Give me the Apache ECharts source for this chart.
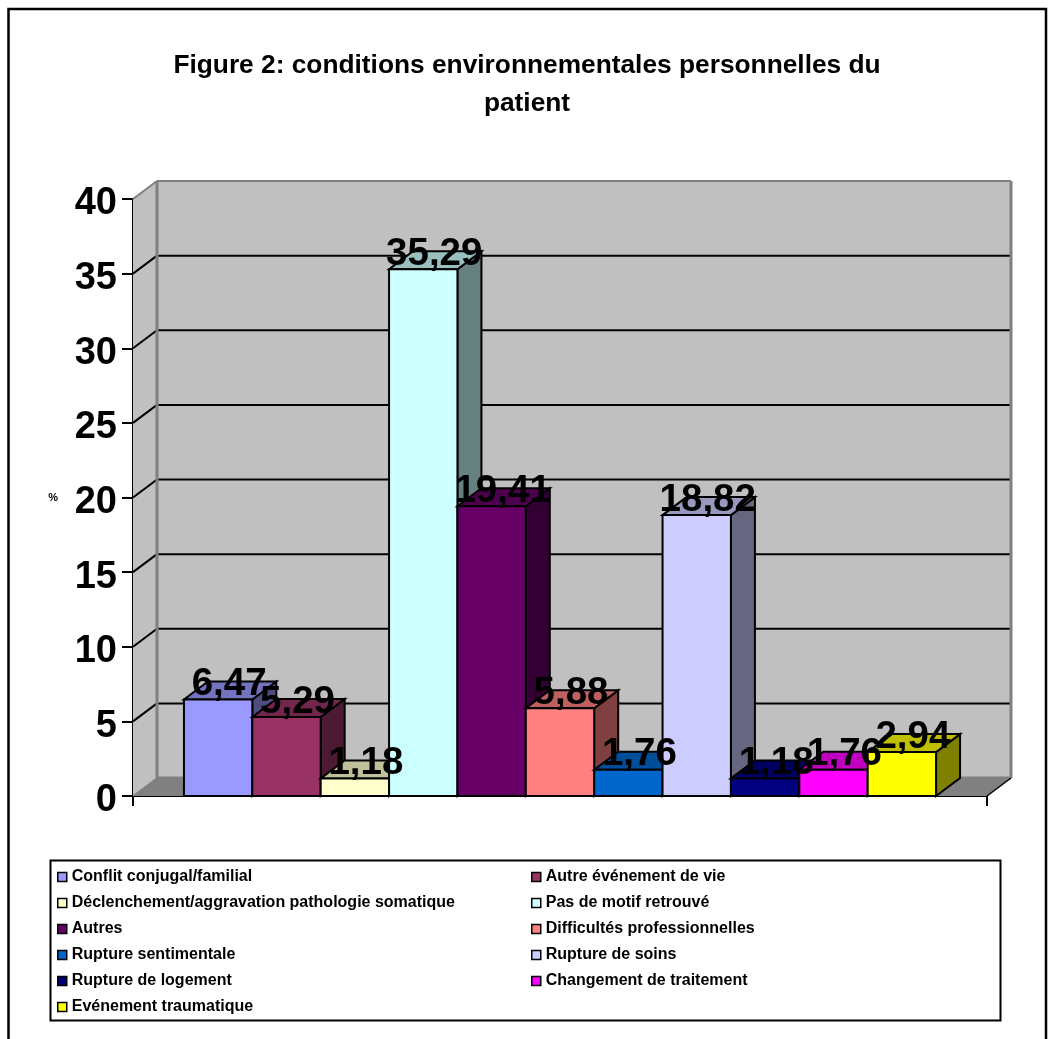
<!DOCTYPE html>
<html><head><meta charset="utf-8">
<style>html,body{margin:0;padding:0;background:#fff}#c{width:1048px;height:1039px}</style>
<script src="https://cdn.jsdelivr.net/npm/echarts@6/dist/echarts.min.js"></script>
</head><body><div id="c"></div>
<script>
const titleLines = ['Figure 2: conditions environnementales personnelles du', 'patient'];
const categories = ['Conflit conjugal/familial','Autre événement de vie','Déclenchement/aggravation pathologie somatique','Pas de motif retrouvé','Autres','Difficultés professionnelles','Rupture sentimentale','Rupture de soins','Rupture de logement','Changement de traitement','Evénement traumatique'];
const values = [6.47,5.29,1.18,35.29,19.41,5.88,1.76,18.82,1.18,1.76,2.94];
const valueLabels = ['6,47','5,29','1,18','35,29','19,41','5,88','1,76','18,82','1,18','1,76','2,94'];
const colors = ['#9999FF','#993366','#FFFFCC','#CCFFFF','#660066','#FF8080','#0066CC','#CCCCFF','#000080','#FF00FF','#FFFF00'];
const yTicks = [0,5,10,15,20,25,30,35,40];

const DX = 24, DY = -18;        // projection depth of the 3D box
const GAP = 0.745, XMAX = 12.49; // x domain measured in bar widths

function shade(hex, k){
  const n = parseInt(hex.slice(1),16);
  return 'rgb('+[(n>>16)&255,(n>>8)&255,n&255].map(v=>Math.round(v*k)).join(',')+')';
}
function poly(points, fill, stroke, lw, z2){
  return {type:'polygon', shape:{points}, z2:z2||0, style:{fill, stroke:stroke||null, lineWidth:lw||0, lineJoin:'miter'}};
}
function line(a,b,stroke,lw,z2){
  return {type:'line', shape:{x1:a[0],y1:a[1],x2:b[0],y2:b[1]}, z2:z2||0, style:{stroke, lineWidth:lw}};
}
const back = p => [p[0]+DX, p[1]+DY];

function renderWalls(params, api){
  const bl = api.coord([0,0]), br = api.coord([XMAX,0]), tl = api.coord([0,40]), tr = api.coord([XMAX,40]);
  const ch = [];
  ch.push(poly([back(tl),back(tr),back(br),back(bl)],'#C0C0C0'));
  ch.push(poly([tl,back(tl),back(bl),bl],'#C0C0C0'));
  ch.push(poly([bl,back(bl),back(br),br],'#808080'));
  yTicks.forEach(t=>{
    if(t===0) return;
    const a = api.coord([0,t]), b = api.coord([XMAX,t]);
    if(t<40){ ch.push(line(back(a),back(b),'#000',2)); }
    ch.push(line(a,back(a),t===40?'#808080':'#000',2));
  });
  ch.push(line(back(tl),back(tr),'#808080',2));
  ch.push(line(back(tl),back(bl),'#808080',3));
  ch.push(line(back(tr),back(br),'#808080',3));
  ch.push(line(back(bl),back(br),'#808080',3));
  ch.push(line(br,back(br),'#000',1.5));
  ch.push(line(bl,back(bl),'#808080',1.5));
  return {type:'group', children:ch};
}
function makeBar(i){
  return function(params, api){
    const v = api.value(1), x = GAP + i;
    const b0 = api.coord([x,0]), b1 = api.coord([x+1,0]), t0 = api.coord([x,v]), t1 = api.coord([x+1,v]);
    const c = colors[i];
    const lw = 2;
    return {type:'group', children:[
      poly([t1,back(t1),back(b1),b1],shade(c,0.5),'#000',lw),
      poly([t0,back(t0),back(t1),t1],shade(c,0.75),'#000',lw),
      poly([t0,t1,b1,b0],c,'#000',lw),
      {type:'text', z2:100, style:{x:(t0[0]+t1[0])/2+DX/2-1, y:t0[1]-15, text:valueLabels[i], align:'center', verticalAlign:'middle', fontFamily:'"Liberation Sans",Arial,sans-serif', fontWeight:'bold', fontSize:38.5, fill:'#000'}}
    ]};
  };
}
const series = [{
  type:'custom', name:'__walls', coordinateSystem:'cartesian2d', silent:true, z:1,
  data:[[0,0]], renderItem:renderWalls, clip:false, encode:{x:0,y:1}
}];
categories.forEach((name,i)=>{
  series.push({type:'custom', name, coordinateSystem:'cartesian2d', z:2, clip:false,
    itemStyle:{color:colors[i]}, data:[[GAP+i, values[i]]], renderItem:makeBar(i), encode:{x:0,y:1}});
});
const FF = '"Liberation Sans",Arial,sans-serif';
const legendBase = {orient:'vertical', itemWidth:9, itemHeight:9, itemGap:10, icon:'rect', padding:0,
  itemStyle:{borderColor:'#000',borderWidth:1.5},
  textStyle:{fontFamily:FF,fontWeight:'bold',fontSize:16,color:'#000',padding:[0,0,0,0]}, selectedMode:false};
const option = {
  animation:false, backgroundColor:'#fff',
  title:{text:titleLines.join('\n'), left:522, top:42, textAlign:'center',
    textStyle:{fontFamily:FF,fontWeight:'bold',fontSize:26.3,lineHeight:38,color:'#000'}},
  grid:{left:133,right:61,top:199,height:597,containLabel:false},
  xAxis:{type:'value',min:0,max:XMAX,interval:XMAX,splitLine:{show:false},axisLabel:{show:false},
    axisLine:{show:true,lineStyle:{color:'#000',width:2}},axisTick:{show:true,length:10,lineStyle:{color:'#000',width:2}}},
  yAxis:{type:'value',min:0,max:40,interval:5,name:'%',nameLocation:'middle',nameRotate:0,nameGap:75,
    nameTextStyle:{fontFamily:FF,fontWeight:'bold',fontSize:11,color:'#000'},splitLine:{show:false},
    axisLine:{show:true,lineStyle:{color:'#000',width:2}},axisTick:{show:true,length:11,lineStyle:{color:'#000',width:2}},
    axisLabel:{margin:16,formatter:'{a|{value}}',
      rich:{a:{fontFamily:FF,fontWeight:'bold',fontSize:38,color:'#000',padding:[10,0,0,0]}}}},
  legend:[
    Object.assign({},legendBase,{left:57,top:869,data:categories.filter((c,i)=>i%2===0)}),
    Object.assign({},legendBase,{left:531,top:869,data:categories.filter((c,i)=>i%2===1)})
  ],
  graphic:[
    {type:'rect',z:-1,shape:{x:8.5,y:9,width:1037.5,height:1060},style:{fill:'#fff',stroke:'#000',lineWidth:2.5}},
    {type:'rect',z:-1,shape:{x:50.5,y:860.5,width:950,height:160},style:{fill:'#fff',stroke:'#000',lineWidth:2}}
  ],
  series
};
echarts.init(document.getElementById('c'),null,{renderer:'canvas'}).setOption(option);
</script></body></html>
